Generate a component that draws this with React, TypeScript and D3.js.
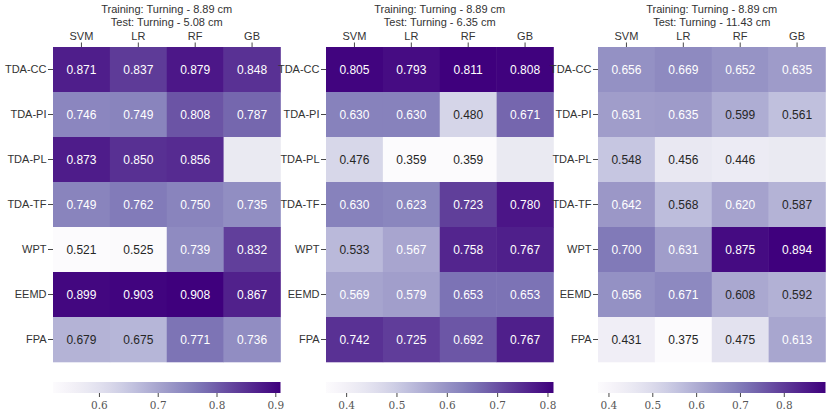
import React from 'react';
import * as d3 from 'd3';

const models = ['SVM', 'LR', 'RF', 'GB'];
const features = ['TDA-CC', 'TDA-PI', 'TDA-PL', 'TDA-TF', 'WPT', 'EEMD', 'FPA'];

const testDepths = ['5.08 cm', '6.35 cm', '11.43 cm'];

// NaN = missing result (drawn as the axes background)
const scores508 = [
  [0.871, 0.837, 0.879, 0.848],
  [0.746, 0.749, 0.808, 0.787],
  [0.873, 0.85, 0.856, NaN],
  [0.749, 0.762, 0.75, 0.735],
  [0.521, 0.525, 0.739, 0.832],
  [0.899, 0.903, 0.908, 0.867],
  [0.679, 0.675, 0.771, 0.736],
];

const scores635 = [
  [0.805, 0.793, 0.811, 0.808],
  [0.63, 0.63, 0.48, 0.671],
  [0.476, 0.359, 0.359, NaN],
  [0.63, 0.623, 0.723, 0.78],
  [0.533, 0.567, 0.758, 0.767],
  [0.569, 0.579, 0.653, 0.653],
  [0.742, 0.725, 0.692, 0.767],
];

const scores1143 = [
  [0.656, 0.669, 0.652, 0.635],
  [0.631, 0.635, 0.599, 0.561],
  [0.548, 0.456, 0.446, NaN],
  [0.642, 0.568, 0.62, 0.587],
  [0.7, 0.631, 0.875, 0.894],
  [0.656, 0.671, 0.608, 0.592],
  [0.431, 0.375, 0.475, 0.613],
];

const cbarTicks = [
  [0.6, 0.7, 0.8, 0.9],
  [0.4, 0.5, 0.6, 0.7, 0.8],
  [0.4, 0.5, 0.6, 0.7, 0.8],
];

const panels = [scores508, scores635, scores1143];

const W = 831;
const H = 416;
const panelLeft = [53, 326, 598];
const panelWidth = 227.5;
const top = 47;
const bottom = 362;
const cbarTop = 382;
const cbarH = 11;

const sans = '"Liberation Sans", Arial, sans-serif';
const serif = '"DejaVu Serif", "Liberation Serif", serif';
const ink = '#333';

function luminance(c: string) {
  const rgb = d3.rgb(c);
  const lin = [rgb.r, rgb.g, rgb.b].map((v) => {
    const s = v / 255;
    return s <= 0.03928 ? s / 12.92 : Math.pow((s + 0.055) / 1.055, 2.4);
  });
  return 0.2126 * lin[0] + 0.7152 * lin[1] + 0.0722 * lin[2];
}

function Heatmap({ idx }: { idx: number }) {
  const data = panels[idx];
  const x0 = panelLeft[idx];
  const flat = data.flat().filter((v) => !isNaN(v));
  const [vmin, vmax] = d3.extent(flat) as [number, number];

  const x = d3
    .scaleBand<string>()
    .domain(models)
    .range([x0, x0 + panelWidth]);
  const y = d3.scaleBand<string>().domain(features).range([top, bottom]);
  const color = d3
    .scaleSequential(d3.interpolatePurples)
    .domain([vmin, vmax]);
  const cbar = d3
    .scaleLinear()
    .domain([vmin, vmax])
    .range([x0, x0 + panelWidth]);

  const cx = x0 + panelWidth / 2;
  const gradId = `grad-${idx}`;
  const stops = d3.range(0, 1.0001, 0.05);

  return (
    <g>
      <defs>
        <linearGradient id={gradId} x1="0" x2="1" y1="0" y2="0">
          {stops.map((t) => (
            <stop
              key={t}
              offset={`${t * 100}%`}
              stopColor={d3.interpolatePurples(t)}
            />
          ))}
        </linearGradient>
      </defs>

      <text x={cx} y={12.5} textAnchor="middle" fontSize={11} fill={ink}>
        Training: Turning - 8.89 cm
      </text>
      <text x={cx} y={25.5} textAnchor="middle" fontSize={11} fill={ink}>
        Test: Turning - {testDepths[idx]}
      </text>

      {models.map((m) => (
        <g key={m}>
          <text
            x={x(m)! + x.bandwidth() / 2}
            y={39.5}
            textAnchor="middle"
            fontSize={11}
            fill={ink}
          >
            {m}
          </text>
          <line
            x1={x(m)! + x.bandwidth() / 2}
            x2={x(m)! + x.bandwidth() / 2}
            y1={top - 4.5}
            y2={top}
            stroke={ink}
            strokeWidth={0.9}
          />
        </g>
      ))}

      {features.map((f) => (
        <g key={f}>
          <text
            x={x0 - 6.5}
            y={y(f)! + y.bandwidth() / 2}
            dy="0.35em"
            textAnchor="end"
            fontSize={11}
            fill={ink}
          >
            {f}
          </text>
          <line
            x1={x0 - 5}
            x2={x0}
            y1={y(f)! + y.bandwidth() / 2}
            y2={y(f)! + y.bandwidth() / 2}
            stroke={ink}
            strokeWidth={0.9}
          />
        </g>
      ))}

      {data.map((row, i) =>
        row.map((v, j) => {
          const missing = isNaN(v);
          const fill = missing ? '#eaeaf2' : color(v);
          const txt = luminance(fill) > 0.408 ? '#262626' : '#ffffff';
          return (
            <g key={`${i}-${j}`}>
              <rect
                x={x(models[j])!}
                y={y(features[i])!}
                width={x.bandwidth() + 0.3}
                height={y.bandwidth() + 0.3}
                fill={fill}
              />
              {!missing && (
                <text
                  x={x(models[j])! + x.bandwidth() / 2}
                  y={y(features[i])! + y.bandwidth() / 2}
                  dy="0.36em"
                  textAnchor="middle"
                  fontSize={12}
                  fill={txt}
                >
                  {v.toFixed(3)}
                </text>
              )}
            </g>
          );
        })
      )}

      <rect
        x={x0}
        y={cbarTop}
        width={panelWidth}
        height={cbarH}
        fill={`url(#${gradId})`}
      />
      {cbarTicks[idx].map((t) => (
        <g key={t}>
          <line
            x1={cbar(t)}
            x2={cbar(t)}
            y1={cbarTop + cbarH}
            y2={cbarTop + cbarH + 4}
            stroke={ink}
            strokeWidth={0.9}
          />
          <text
            x={cbar(t)}
            y={cbarTop + cbarH + 16}
            textAnchor="middle"
            fontSize={10.5}
            fontFamily={serif}
            fill="#555"
          >
            {t.toFixed(1)}
          </text>
        </g>
      ))}
    </g>
  );
}

export default function App() {
  return (
    <svg
      width={W}
      height={H}
      viewBox={`0 0 ${W} ${H}`}
      fontFamily={sans}
      style={{ position: 'absolute', left: 0, top: 0, background: '#fff' }}
    >
      {panels.map((_, i) => (
        <Heatmap key={i} idx={i} />
      ))}
    </svg>
  );
}
